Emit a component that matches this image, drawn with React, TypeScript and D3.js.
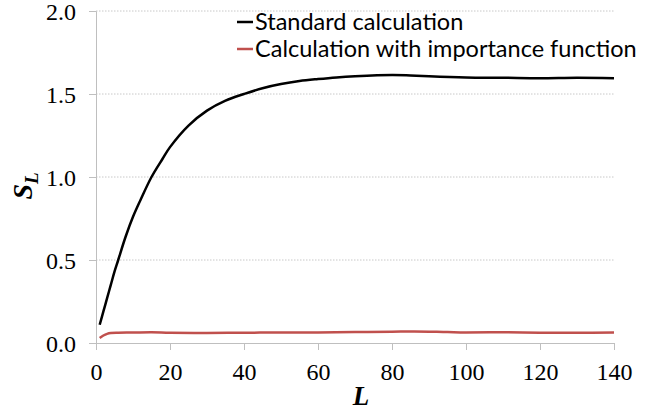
import * as d3 from "d3";
import React, { useRef, useEffect } from "react";

// values
const stdL = [1, 2, 3, 4, 5, 6, 8, 10, 12, 15, 18, 20, 25, 30, 35, 40, 45, 50, 55, 60, 65, 70, 80, 85, 90, 100, 110, 120, 130, 140];
const stdS = [0.11, 0.19, 0.27, 0.35, 0.43, 0.5, 0.64, 0.76, 0.86, 1.0, 1.11, 1.18, 1.31, 1.4, 1.46, 1.5, 1.535, 1.56, 1.578, 1.59, 1.6, 1.607, 1.615, 1.612, 1.607, 1.6, 1.598, 1.595, 1.598, 1.595];

const impL = [1, 2, 3, 4, 6, 10, 15, 20, 30, 40, 50, 60, 70, 80, 86, 95, 100, 110, 120, 130, 140];
const impS = [0.03, 0.045, 0.055, 0.06, 0.062, 0.063, 0.065, 0.062, 0.06, 0.062, 0.063, 0.063, 0.066, 0.068, 0.07, 0.066, 0.064, 0.065, 0.062, 0.062, 0.063];

const xTicks = [0, 20, 40, 60, 80, 100, 120, 140];
const yTicks = [0, 0.5, 1.0, 1.5, 2.0];

const legendNames = ["Standard calculation", "Calculation with importance function"];
const colors = ["#000000", "#C0504D"];

function App() {
  const svgRef = useRef(null);

  useEffect(() => {
    document.body.style.margin = "0";
    const svg = d3.select(svgRef.current);
    svg.selectAll("*").remove();

    const x = d3.scaleLinear().domain([0, 140]).range([96, 614]);
    const y = d3.scaleLinear().domain([0, 2]).range([343, 11]);

    // dotted grid lines
    svg
      .append("g")
      .selectAll("line")
      .data(yTicks.filter((d) => d > 0))
      .enter()
      .append("line")
      .attr("x1", x(0))
      .attr("x2", x(140))
      .attr("y1", (d) => y(d))
      .attr("y2", (d) => y(d))
      .attr("stroke", "#c8c8c8")
      .attr("stroke-dasharray", "1.5,1.5");

    // y axis
    const yAxis = svg
      .append("g")
      .attr("transform", `translate(${x(0)},0)`)
      .call(d3.axisLeft(y).tickValues(yTicks).tickSize(7).tickFormat(d3.format(".1f")));
    yAxis.select(".domain").attr("stroke", "#bfbfbf");
    yAxis.selectAll(".tick line").attr("stroke", "#bfbfbf");
    yAxis
      .selectAll(".tick text")
      .attr("x", -20)
      .attr("dy", "0.34em")
      .attr("fill", "#000")
      .style("font-family", "'Liberation Serif', 'Times New Roman', serif")
      .style("font-size", "24px");

    // x axis
    const xAxis = svg
      .append("g")
      .attr("transform", `translate(0,${y(0)})`)
      .call(d3.axisBottom(x).tickValues(xTicks).tickSize(7).tickSizeOuter(0));
    xAxis.select(".domain").attr("stroke", "#bfbfbf");
    xAxis.selectAll(".tick line").attr("stroke", "#bfbfbf");
    xAxis
      .selectAll(".tick text")
      .attr("y", 20)
      .attr("dy", "0.71em")
      .attr("fill", "#000")
      .style("font-family", "'Liberation Serif', 'Times New Roman', serif")
      .style("font-size", "24px");

    // series lines
    const line = d3
      .line()
      .x((d) => x(d[0]))
      .y((d) => y(d[1]))
      .curve(d3.curveCatmullRom.alpha(0.5));

    const series = [d3.zip(stdL, stdS), d3.zip(impL, impS)];
    series.forEach((pts, i) => {
      svg
        .append("path")
        .datum(pts)
        .attr("fill", "none")
        .attr("stroke", colors[i])
        .attr("stroke-width", 2.5)
        .attr("stroke-linejoin", "round")
        .attr("d", line);
    });

    // axis titles
    svg
      .append("text")
      .attr("x", 361)
      .attr("y", 405)
      .attr("text-anchor", "middle")
      .style("font-family", "'Liberation Serif', 'Times New Roman', serif")
      .style("font-size", "27px")
      .style("font-weight", "bold")
      .style("font-style", "italic")
      .text("L");

    const yTitle = svg
      .append("text")
      .attr("transform", "translate(32,186) rotate(-90)")
      .attr("text-anchor", "middle")
      .style("font-family", "'Liberation Serif', 'Times New Roman', serif")
      .style("font-size", "28px")
      .style("font-weight", "bold")
      .style("font-style", "italic");
    yTitle.append("tspan").text("S");
    yTitle.append("tspan").attr("dy", 6).style("font-size", "19px").text("L");

    // legend
    const legend = svg
      .append("g")
      .selectAll("g")
      .data(legendNames)
      .enter()
      .append("g")
      .attr("transform", (d, i) => `translate(237,${22 + i * 27})`);
    legend
      .append("line")
      .attr("x1", 0)
      .attr("x2", 16)
      .attr("stroke", (d, i) => colors[i])
      .attr("stroke-width", 2.5);
    legend
      .append("text")
      .attr("x", 18)
      .attr("dy", "0.35em")
      .style("font-family", "Lato, sans-serif")
      .style("font-size", "23.5px")
      .text((d) => d);
  }, []);

  return <svg ref={svgRef} width={645} height={414} style={{ display: "block" }} />;
}

export default App;
